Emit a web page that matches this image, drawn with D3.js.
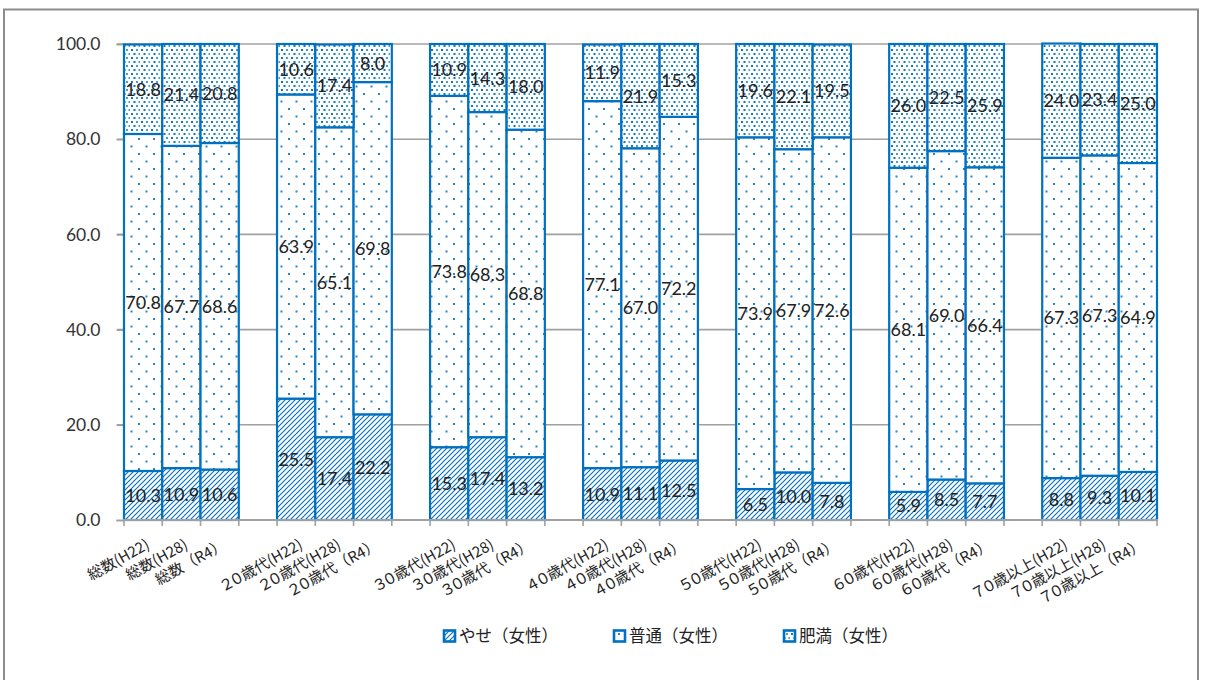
<!DOCTYPE html>
<html><head><meta charset="utf-8">
<script src="https://cdn.jsdelivr.net/npm/d3@7/dist/d3.min.js"></script>
<style>body{margin:0;background:#fff}</style>
</head><body>
<svg id="c" width="1206" height="680"></svg>
<script>
const categories = [
  "総数(H22)","総数(H28)","総数（R4）",
  "２０歳代(H22)","２０歳代(H28)","２０歳代（R4）",
  "３０歳代(H22)","３０歳代(H28)","３０歳代（R4）",
  "４０歳代(H22)","４０歳代(H28)","４０歳代（R4）",
  "５０歳代(H22)","５０歳代(H28)","５０歳代（R4）",
  "６０歳代(H22)","６０歳代(H28)","６０歳代（R4）",
  "７０歳以上(H22)","７０歳以上(H28)","７０歳以上（R4）"
];
const yase  = [10.3,10.9,10.6, 25.5,17.4,22.2, 15.3,17.4,13.2, 10.9,11.1,12.5, 6.5,10.0,7.8, 5.9,8.5,7.7, 8.8,9.3,10.1];
const futsu = [70.8,67.7,68.6, 63.9,65.1,69.8, 73.8,68.3,68.8, 77.1,67.0,72.2, 73.9,67.9,72.6, 68.1,69.0,66.4, 67.3,67.3,64.9];
const himan = [18.8,21.4,20.8, 10.6,17.4,8.0, 10.9,14.3,18.0, 11.9,21.9,15.3, 19.6,22.1,19.5, 26.0,22.5,25.9, 24.0,23.4,25.0];
const seriesNames = ["やせ（女性）","普通（女性）","肥満（女性）"];
const yTicks = [0,20,40,60,80,100];
const groupSize = 3;

const BLUE = "#0070C0";
const svg = d3.select("#c");
const plot = {left:124, right:1157, top:44, bottom:520};

// frame
svg.append("rect").attr("x",4).attr("y",9.5).attr("width",1194).attr("height",720)
  .attr("fill","#fff").attr("stroke","#8c8c8c").attr("stroke-width",2);

// patterns
const defs = svg.append("defs");
const p0 = defs.append("pattern").attr("id","pat0").attr("patternUnits","userSpaceOnUse")
  .attr("width",5).attr("height",5);
p0.append("rect").attr("width",5).attr("height",5).attr("fill","#fff");
p0.append("path").attr("d","M-1,1 L1,-1 M0,5 L5,0 M4,6 L6,4").attr("stroke",BLUE).attr("stroke-width",1.1);

const p1 = defs.append("pattern").attr("id","pat1").attr("patternUnits","userSpaceOnUse")
  .attr("width",15).attr("height",15);
p1.append("rect").attr("width",15).attr("height",15).attr("fill","#fff");
p1.append("rect").attr("x",3).attr("y",3).attr("width",2).attr("height",2).attr("fill",BLUE).attr("opacity",0.85);
p1.append("rect").attr("x",10.5).attr("y",10.5).attr("width",2).attr("height",2).attr("fill",BLUE).attr("opacity",0.85);

const p2 = defs.append("pattern").attr("id","pat2").attr("patternUnits","userSpaceOnUse")
  .attr("width",10).attr("height",8);
p2.append("rect").attr("width",10).attr("height",8).attr("fill","#fff");
[[1,1],[6,1],[3.5,5],[8.5,5]].forEach(([x,y],i)=>{
  p2.append("rect").attr("x",x).attr("y",y).attr("width",2).attr("height",2)
    .attr("fill",BLUE).attr("opacity", i%2? 0.7 : 0.95);
});
const pats = ["url(#pat0)","url(#pat1)","url(#pat2)"];

// scales
const slots = [];
categories.forEach((c,i)=>{ if(i>0 && i%groupSize===0) slots.push("__gap"+i); slots.push(c); });
const x = d3.scaleBand().domain(slots).range([plot.left, plot.right]).paddingInner(0).paddingOuter(0);
const y = d3.scaleLinear().domain([0,100]).range([plot.bottom, plot.top]);

// gridlines
svg.append("g").selectAll("line").data(yTicks.filter(t=>t>0)).join("line")
  .attr("x1",plot.left-7).attr("x2",plot.right).attr("y1",d=>y(d)).attr("y2",d=>y(d))
  .attr("stroke","#a0a0a0").attr("stroke-width",1.6);

// y axis
const yAxis = d3.axisLeft(y).tickValues(yTicks).tickSize(7).tickFormat(d3.format(".1f"));
const ya = svg.append("g").attr("transform",`translate(${plot.left-0.5},0)`).call(yAxis);
ya.select(".domain").attr("stroke","#a0a0a0").attr("stroke-width",1.6);
ya.selectAll(".tick line").attr("stroke","#a0a0a0").attr("stroke-width",1.6);
ya.selectAll(".tick text").attr("x",-23).attr("fill","#333")
  .style("font-family","Lato, 'Liberation Sans', sans-serif").style("font-size","17.5px");

// stacked data
const rows = categories.map((c,i)=>({cat:c, s0:yase[i], s1:futsu[i], s2:himan[i]}));
const stack = d3.stack().keys(["s0","s1","s2"])(rows);

const gBars = svg.append("g");
stack.forEach((layer,k)=>{
  gBars.append("g").selectAll("rect").data(layer).join("rect")
    .attr("x",d=>x(d.data.cat)).attr("width",x.bandwidth())
    .attr("y",d=>y(d[1])).attr("height",d=>y(d[0])-y(d[1]))
    .attr("fill",pats[k]).attr("stroke",BLUE).attr("stroke-width",2.2);
});

// x axis
const xa = svg.append("g");
xa.append("line").attr("x1",plot.left-1).attr("x2",plot.right+1).attr("y1",plot.bottom).attr("y2",plot.bottom)
  .attr("stroke","#a0a0a0").attr("stroke-width",1.8);
const bounds = slots.map(s=>x(s)).concat([plot.right]);
xa.selectAll("line.t").data(bounds).join("line").attr("class","t")
  .attr("x1",d=>d).attr("x2",d=>d).attr("y1",plot.bottom).attr("y2",plot.bottom+6)
  .attr("stroke","#a0a0a0").attr("stroke-width",1.6);
const xt = xa.selectAll("text").data(categories).join("text")
  .attr("transform",d=>`translate(${x(d)+x.bandwidth()/2+2},${plot.bottom+18}) rotate(-29)`)
  .attr("dy","0.75em").attr("text-anchor","end")
  .attr("fill","#222").style("font-family","'Noto Sans CJK JP', sans-serif").style("font-size","15px");
xt.each(function(d){
  const m = d.match(/^(.*?)([（(].*)$/);
  const t = d3.select(this);
  t.append("tspan").style("font-feature-settings","'palt'").text(m ? m[1] : d);
  if (m) t.append("tspan").text(m[2]);
});

// data labels
const gLab = svg.append("g").style("font-family","Lato, 'Liberation Sans', sans-serif").style("font-size","18px").attr("fill","#222");
stack.forEach((layer,k)=>{
  gLab.append("g").selectAll("text").data(layer).join("text")
    .attr("x",d=>x(d.data.cat)+x.bandwidth()/2)
    .attr("y",d=>y((d[0]+d[1])/2)).attr("dy","0.36em").attr("text-anchor","middle")
    .text(d=>d3.format(".1f")(d[1]-d[0]));
});

// legend
const legX = [444, 614, 784];
const lg = svg.append("g");
seriesNames.forEach((n,i)=>{
  lg.append("rect").attr("x",legX[i]).attr("y",630.5).attr("width",11).attr("height",11)
    .attr("fill",pats[i]).attr("stroke",BLUE).attr("stroke-width",2.6);
  lg.append("text").attr("x",legX[i]+15).attr("y",636).attr("dy","0.36em")
    .attr("fill","#222").style("font-family","'Noto Sans CJK JP', sans-serif").style("font-size","16.5px")
    .text(n);
});
</script>
</body></html>
